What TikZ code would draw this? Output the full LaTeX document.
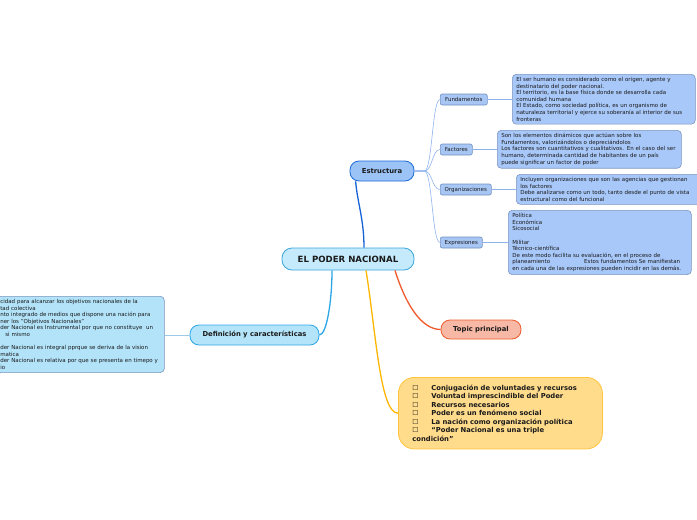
\documentclass[tikz,border=0pt]{standalone}
\usepackage{fontspec}
\setmainfont{DejaVu Sans}
\usetikzlibrary{calc}
\definecolor{rootfill}{HTML}{C4EAFB}
\definecolor{rootline}{HTML}{3AA6DD}
\definecolor{strucfill}{HTML}{9CC3F6}
\definecolor{strucline}{HTML}{1B6AD8}
\definecolor{strucblue}{HTML}{1663D5}
\definecolor{subfill}{HTML}{A8C6F4}
\definecolor{subline}{HTML}{7090C0}
\definecolor{notefill}{HTML}{A8C8F9}
\definecolor{noteline}{HTML}{7C95BE}
\definecolor{skyline}{HTML}{2CA6E6}
\definecolor{skyfill}{HTML}{B4E4F9}
\definecolor{skynote}{HTML}{B2E3F9}
\definecolor{skytwig}{HTML}{9CCBEA}
\definecolor{topicfill}{HTML}{F7B8A6}
\definecolor{topicline}{HTML}{EE5A2C}
\definecolor{goldfill}{HTML}{FFDB8C}
\definecolor{goldline}{HTML}{FFC43A}
\definecolor{goldbranch}{HTML}{FFB600}
\definecolor{twigblue}{HTML}{8DB3EE}
\definecolor{textdark}{HTML}{1A1A1A}
\tikzset{
  branch/.style={line width=1.3pt},
  twig/.style={line width=0.6pt, twigblue},
  topicnode/.style={rectangle, rounded corners=9pt, line width=0.8pt, align=center, text=textdark, font=\fontsize{6.8}{8}\selectfont\bfseries},
  subnode/.style={rectangle, rounded corners=2pt, draw=subline, fill=subfill, line width=0.6pt, inner sep=0pt, minimum height=11pt, anchor=west, text=textdark, font=\fontsize{5.5}{6.6}\selectfont},
  notenode/.style={rectangle, rounded corners=4pt, draw=noteline, fill=notefill, line width=0.6pt, align=left, anchor=north west, inner xsep=4pt, inner ysep=3pt, text=textdark, font=\fontsize{5.5}{6.6}\selectfont},
}
\newcommand{\chkbox}{\makebox[19pt][l]{\mdseries ☐}}

\begin{document}
\begin{tikzpicture}[x=1pt, y=-1pt]
  \path[use as bounding box, clip] (0,0) rectangle (697,520);

  % central topic
  \node[topicnode, draw=rootline, fill=rootfill, minimum width=132pt, minimum height=22pt, rounded corners=10pt, font=\fontsize{8.6}{10}\selectfont\bfseries] (nacional) at (348,259) {EL PODER NACIONAL};

  % Estructura and its four parts
  \node[topicnode, draw=strucline, fill=strucfill, minimum width=64pt, minimum height=20pt] (estructura) at (382,171) {Estructura};
  \node[subnode, minimum width=47pt] (fundamentos) at (440,99.5) {Fundamentos};
  \node[subnode, minimum width=32pt] (factores) at (440,149.5) {Factores};
  \node[subnode, minimum width=51pt] (organizaciones) at (440,189.5) {Organizaciones};
  \node[subnode, minimum width=42pt] (expresiones) at (440,242.5) {Expresiones};

  \node[notenode, text width=175pt] (fundnote) at (512,74) {El ser humano es considerado como el origen, agente y\\destinatario del poder nacional.\\El territorio, es la base física donde se desarrolla cada\\comunidad humana\\El Estado, como sociedad política, es un organismo de\\naturaleza territorial y ejerce su soberanía al interior de sus\\fronteras};
  \node[notenode, text width=176pt] (factnote) at (497,130) {Son los elementos dinámicos que actúan sobre los\\Fundamentos, valorizándolos o depreciándolos\\Los factores son cuantitativos y cualitativos. En el caso del ser\\humano, determinada cantidad de habitantes de un país\\puede significar un factor de poder};
  \node[notenode, text width=178pt] (orgnote) at (516,174) {Incluyen organizaciones que son las agencias que gestionan\\los factores\\Debe analizarse como un todo, tanto desde el punto de vista\\estructural como del funcional};
  \node[notenode, text width=175pt] (exprnote) at (508,210) {Política\\Económica\\Sicosocial\\\mbox{}\\Militar\\Técnico-científica\\De este modo facilita su evaluación, en el proceso de\\planeamiento\hspace{34pt}Estos fundamentos Se manifiestan\\en cada una de las expresiones pueden incidir en las demás.};

  % Definicion branch
  \node[topicnode, draw=skyline, fill=skyfill, minimum width=129pt, minimum height=20pt] (definicion) at (254.5,335) {Definición y características};
  \node[notenode, fill=skynote, text width=160pt] (defnote) at (-4,296) {cidad para alcanzar los objetivos nacionales de la\\tad colectiva\\nto integrado de medios que dispone una nación para\\ner los "Objetivos Nacionales"\\der Nacional es Instrumental por que no constituye\ \ un\\\hspace*{5pt}si mismo\\\mbox{}\\der Nacional es integral pprque se deriva de la vision\\matica\\der Nacional es relativa por que se presenta en timepo y\\io};

  % Topic principal and the yellow list
  \node[topicnode, draw=topicline, fill=topicfill, minimum width=80pt, minimum height=19pt] (topic) at (481,329.5) {Topic principal};
  \node[rectangle, rounded corners=16pt, draw=goldline, fill=goldfill, line width=0.8pt, anchor=north west, align=left, text width=176pt, inner xsep=14pt, inner ysep=7.5pt, text=textdark, font=\fontsize{6.8}{8.5}\selectfont\bfseries] (conjugacion) at (398,377) {\chkbox Conjugación de voluntades y recursos\\\chkbox Voluntad imprescindible del Poder\\\chkbox Recursos necesarios\\\chkbox Poder es un fenómeno social\\\chkbox La nación como organización política\\\chkbox “Poder Nacional es una triple\\condición”};

  % main branches
  \draw[branch, strucblue] ($(nacional.north)+(16,0)$) .. controls +(0,-28) and +(2,22) .. ($(estructura.south west)+(6,0)$);
  \draw[branch, skyline] ($(nacional.south)+(-16,0)$) .. controls +(0,32) and +(7,0) .. (definicion.east);
  \draw[branch, topicline] ($(nacional.south)+(47,0)$) .. controls +(10,32) and +(-20,0) .. (topic.west);
  \draw[branch, goldbranch] ($(nacional.south)+(18,0)$) .. controls +(10,62) and +(-18,0) .. (conjugacion.west);

  % twigs
  \foreach \nd in {fundamentos,factores,organizaciones,expresiones} {
    \draw[twig] (estructura.east) -- ++(10,0) .. controls +(8,0) and +(-8,0) .. (\nd.west);
  }
  \foreach \nd/\nt in {fundamentos/fundnote,factores/factnote,organizaciones/orgnote,expresiones/exprnote} {
    \draw[twig] (\nd.east) -- (\nd.east -| \nt.west);
  }
  \draw[twig, skytwig] (definicion.west) -- (definicion.west -| defnote.east);
\end{tikzpicture}
\end{document}
